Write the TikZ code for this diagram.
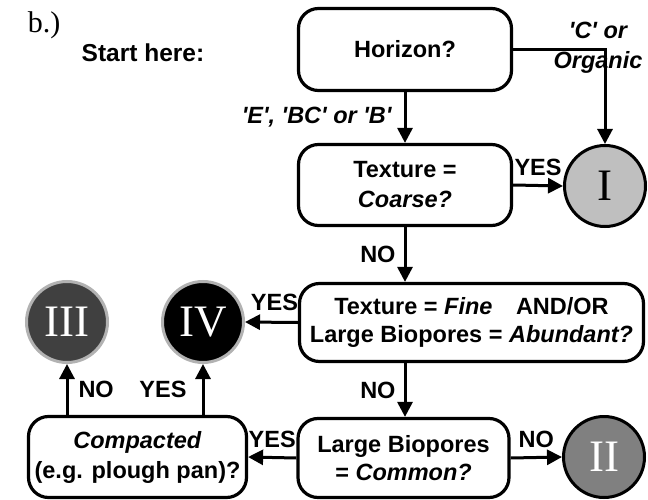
\documentclass[tikz,border=0pt]{standalone}
\usepackage{fontspec}
\setmainfont{Liberation Sans}
\newfontfamily\numfont{Liberation Serif}
\usetikzlibrary{arrows.meta}
\newcommand\sq{\textquotesingle}
\definecolor{circI}{gray}{0.75}
\definecolor{circII}{gray}{0.5}
\definecolor{circIII}{gray}{0.25}
\definecolor{ringgray}{gray}{0.7}
\begin{document}
\begin{tikzpicture}[x=1pt,y=-1pt,
  txt/.style={font=\bfseries\fontsize{23.5}{28}\selectfont},
  qbox/.style={draw, line width=3.2pt, rounded corners=20pt, txt, align=center, inner sep=0pt},
  leaf/.style={circle, line width=3pt, inner sep=0pt, minimum size=81pt, font=\numfont\fontsize{45}{45}\selectfont},
  lab/.style={txt, inner sep=0pt},
  flow/.style={line width=3pt, -{Triangle[length=15pt,width=15pt]}}
]
\useasboundingbox (0,0) rectangle (648,500);

% question boxes
\node[qbox, minimum width=213pt, minimum height=82pt] (horizon) at (405,49.5) {Horizon?};
\node[qbox, minimum width=213pt, minimum height=81pt] (coarse) at (405,185) {Texture =\\[2pt]\textit{Coarse?}};
\node[qbox, minimum width=344pt, minimum height=78pt] (fine) at (471.5,322.5) {Texture = \textit{Fine}\quad AND/OR\\Large Biopores = \textit{Abundant?}};
\node[qbox, minimum width=211pt, minimum height=79pt] (common) at (403.5,458) {Large Biopores\\= \textit{Common?}};
\node[qbox, minimum width=218pt, minimum height=81pt] (compact) at (137.5,457) {\textit{Compacted}\\[2pt](e.g. plough pan)?};

% outcome classes
\node[leaf, draw=black, fill=circI, text=black] (cI) at (605,186) {I};
\node[leaf, draw=black, fill=circII, text=white] (cII) at (604,457) {II};
\node[leaf, draw=ringgray, fill=circIII, text=white] (cIII) at (67,322) {III};
\node[leaf, draw=ringgray, fill=black, text=white] (cIV) at (203,322) {IV};

% free text
\node[font=\numfont\fontsize{30}{30}\selectfont, inner sep=0pt] (tag) at (44,25) {b.)};
\node[lab, font=\bfseries\fontsize{24.5}{28}\selectfont] (start) at (143,53) {Start here:};

% connectors
\draw[flow] (horizon.south) -- (coarse.north)
  node[lab, pos=0.5, left=12pt] {\itshape\sq E\sq, \sq BC\sq\ or \sq B\sq};
\draw[flow] (horizon.east) -| (cI.north);
\node[lab, align=center, font=\bfseries\itshape\fontsize{23.5}{30}\selectfont] (corg) at (598,48) {\sq C\sq\ or\\Organic};
\draw[flow] (coarse.east) -- (cI.west) node[lab, midway, above=8pt] {YES};
\draw[flow] (coarse.south) -- (coarse.south |- fine.north)
  node[lab, midway, left=8pt] {NO};
\draw[flow] (fine.west) -- (cIV.east) node[lab, midway, above=10pt, xshift=3pt] {YES};
\draw[flow] (coarse.south |- fine.south) -- (coarse.south |- common.north)
  node[lab, midway, left=8pt] {NO};
\draw[flow] (common.east) -- (cII.west) node[lab, midway, above=8pt] {NO};
\draw[flow] (common.west) -- (compact.east) node[lab, midway, above=8pt] {YES};
\draw[flow] (cIII.south |- compact.north) -- (cIII.south)
  node[lab, midway, right=10pt] {NO};
\draw[flow] (cIV.south |- compact.north) -- (cIV.south)
  node[lab, midway, left=15pt] {YES};
\end{tikzpicture}
\end{document}
